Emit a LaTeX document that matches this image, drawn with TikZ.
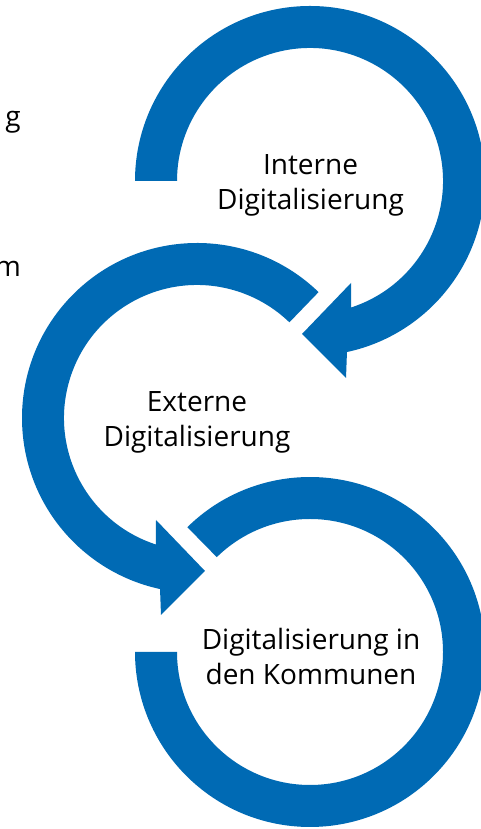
\documentclass[tikz,border=0pt]{standalone}
\usepackage{fontspec}
\setmainfont{Open Sans}
\definecolor{arrowblue}{RGB}{0,106,180}
\tikzset{
  lbl/.style={font=\fontsize{28}{35}\selectfont, inner sep=0pt, anchor=base, text=black},
  band/.style={fill=arrowblue, draw=none}
}
\begin{document}
\begin{tikzpicture}[x=1pt,y=1pt]
\clip (0,0) rectangle (481,829);
\fill[white] (0,0) rectangle (481,829);
% circle 1: Interne Digitalisierung
\begin{scope}[shift={(310,648)}]
\fill[band] (180:175pt) arc[start angle=180, end angle=-77.8, radius=175pt]
  -- (36,-197) -- (-8,-153) -- (41,-102) -- (-72:133pt)
  arc[start angle=-72, end angle=180, radius=133pt] -- cycle;
\end{scope}
% circle 2: Externe Digitalisierung
\begin{scope}[shift={(197,411)}]
\fill[band] (46:175pt) arc[start angle=46, end angle=257.8, radius=175pt]
  -- (-36,-197) -- (8,-153) -- (-41,-102) -- (252:133pt)
  arc[start angle=252, end angle=46, radius=133pt] -- cycle;
\end{scope}
% circle 3: Digitalisierung in den Kommunen
\begin{scope}[shift={(310,177)}]
\fill[band] (134.5:175pt) arc[start angle=134.5, end angle=-180, radius=175pt]
  -- (-180:133pt) arc[start angle=-180, end angle=134.5, radius=133pt] -- cycle;
\end{scope}
% labels
\node[lbl] (i1) at (310.5,654) {Interne};
\node[lbl] (i2) at (310.5,619) {Digitalisierung};
\node[lbl] (e1) at (197,417) {Externe};
\node[lbl] (e2) at (197,382) {Digitalisierung};
\node[lbl] (k1) at (311,179) {Digitalisierung in};
\node[lbl] (k2) at (311,144) {den Kommunen};
% cut-off text fragments at left edge
\node[lbl, anchor=base east] (fg) at (21,702) {g};
\node[lbl, anchor=base east] (fm) at (21,552) {m};
\end{tikzpicture}
\end{document}
